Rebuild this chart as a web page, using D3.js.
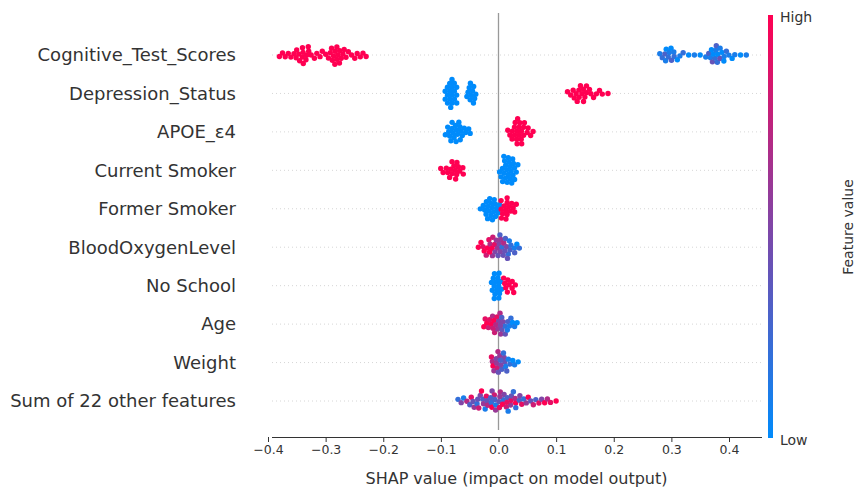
<!DOCTYPE html>
<html><head><meta charset="utf-8">
<script src="https://cdn.jsdelivr.net/npm/d3@7"></script>
<style>body{margin:0;background:#fff;font-family:"DejaVu Sans",sans-serif}</style>
</head><body><div id="chart"></div>
<script>
// feature names, top to bottom
const features = ["Cognitive_Test_Scores","Depression_Status","APOE_ε4","Current Smoker","Former Smoker",
  "BloodOxygenLevel","No School","Age","Weight","Sum of 22 other features"];
// SHAP value : feature value (0 low .. 1 high)
const cognitive = "-0.38:1 -0.375:1 -0.37:1 -0.365:1 -0.36:1 -0.355:1 -0.35:1 -0.35:1 -0.345:1 -0.345:1 -0.34:1 -0.34:1 -0.34:1 -0.338:1 -0.335:1 -0.335:1 -0.33:1 -0.33:1 -0.325:1 -0.32:1 -0.315:1 -0.31:1 -0.305:1 -0.30:1 -0.295:1 -0.29:1 -0.29:1 -0.287:1 -0.285:1 -0.285:1 -0.282:1 -0.28:1 -0.28:1 -0.28:1 -0.277:1 -0.275:1 -0.275:1 -0.27:1 -0.27:1 -0.265:1 -0.26:1 -0.255:1 -0.25:1 -0.245:1 -0.24:1 -0.235:1 -0.23:1 0.28:0.1 0.285:0.2 0.29:0.1 0.29:0.3 0.292:0 0.295:0.1 0.295:0.2 0.30:0.3 0.30:0 0.302:0.1 0.305:0.2 0.31:0 0.315:0.1 0.32:0.2 0.33:0 0.34:0.1 0.35:0 0.36:0.1 0.365:0.3 0.37:0 0.37:0.1 0.372:0.4 0.375:0.2 0.375:0 0.378:0.1 0.38:0.3 0.38:0 0.38:0.2 0.383:0.1 0.385:0 0.385:0.4 0.39:0.1 0.39:0 0.395:0.2 0.40:0.1 0.405:0 0.41:0.1 0.42:0 0.43:0.1";
const depression = "-0.09:0 -0.088:0 -0.086:0 -0.085:0 -0.084:0 -0.083:0 -0.082:0 -0.081:0 -0.08:0 -0.079:0 -0.078:0 -0.077:0 -0.076:0 -0.086:0 -0.082:0 -0.079:0 -0.083:0 -0.08:0 -0.078:0 -0.052:0 -0.05:0 -0.048:0 -0.046:0 -0.044:0 -0.042:0 -0.05:0 -0.047:0 -0.045:0 -0.049:0 -0.043:0 0.12:1 0.125:1 0.13:1 0.133:1 0.136:1 0.14:1 0.142:1 0.145:1 0.148:1 0.15:1 0.153:1 0.156:1 0.16:1 0.165:1 0.17:1 0.175:1 0.18:1 0.19:1 0.135:1 0.14:1 0.147:1 0.152:1";
const apoe = "-0.09:0 -0.087:0 -0.085:0 -0.083:0 -0.081:0 -0.08:0 -0.078:0 -0.077:0 -0.075:0 -0.074:0 -0.072:0 -0.07:0 -0.068:0 -0.066:0 -0.063:0 -0.06:0 -0.057:0 -0.054:0 -0.05:0 -0.079:0 -0.073:0 -0.069:0 0.018:1 0.022:1 0.025:1 0.027:1 0.029:1 0.03:1 0.031:1 0.033:1 0.034:1 0.035:1 0.036:1 0.038:1 0.04:1 0.042:1 0.044:1 0.047:1 0.05:1 0.055:1 0.06:1 0.032:1 0.036:1 0.029:1 0.039:1 0.041:1";
const currentSmoker = "-0.10:1 -0.095:1 -0.09:1 -0.087:1 -0.084:1 -0.082:1 -0.08:1 -0.078:1 -0.076:1 -0.074:1 -0.072:1 -0.07:1 -0.068:1 -0.065:1 -0.062:1 -0.079:1 -0.073:1 0.005:0 0.008:0 0.01:0 0.012:0 0.013:0 0.014:0 0.015:0 0.016:0 0.017:0 0.018:0 0.019:0 0.02:0 0.021:0 0.022:0 0.023:0 0.024:0 0.026:0 0.028:0 0.03:0 0.011:0 0.015:0 0.019:0 0.017:0 0.013:0 0.021:0";
const formerSmoker = "-0.03:0 -0.025:0 -0.022:0 -0.02:0 -0.018:0 -0.016:0 -0.015:0 -0.013:0 -0.012:0 -0.01:0 -0.009:0 -0.008:0 -0.006:0 -0.005:0 -0.003:0 -0.002:0 -0.014:0 -0.011:0 -0.007:0 -0.017:0 0.004:1 0.006:1 0.008:1 0.01:1 0.011:1 0.012:1 0.013:1 0.015:1 0.017:1 0.019:1 0.021:1 0.024:1 0.027:1 0.03:1 0.009:1 0.014:1";
const bloodOxygen = "-0.035:1 -0.03:1 -0.027:0.9 -0.024:1 -0.021:0.8 -0.018:1 -0.016:0.9 -0.014:0.7 -0.012:1 -0.01:0.6 -0.008:0.8 -0.006:0.5 -0.004:0.9 -0.002:0.6 0:0.4 0.002:0.5 0.003:0.3 0.005:0.6 0.006:0.2 0.008:0.4 0.009:0.7 0.011:0.3 0.012:0.5 0.014:0.2 0.016:0.4 0.018:0.1 0.02:0.3 0.022:0.2 0.025:0.1 0.028:0.3 0.032:0 0.036:0.2 -0.015:1 0.004:0.5 0.01:0.4 -0.005:0.6";
const noSchool = "-0.006:0 -0.005:0 -0.004:0 -0.003:0 -0.002:0 -0.001:0 -0.005:0 -0.003:0 -0.002:0 -0.004:0 -0.001:0 -0.003:0 -0.005:0 -0.002:0 -0.004:0 -0.003:0 0.008:1 0.011:1 0.013:1 0.015:1 0.017:1 0.019:1 0.021:1 0.023:1 0.026:1 0.029:1";
const age = "-0.025:1 -0.022:0.9 -0.019:1 -0.016:0.8 -0.014:1 -0.012:0.9 -0.01:0.7 -0.008:1 -0.006:0.8 -0.004:0.6 -0.002:0.9 0:0.5 0.002:0.7 0.003:0.4 0.005:0.6 0.006:0.3 0.008:0.5 0.01:0.2 0.012:0.4 0.014:0.1 0.016:0.3 0.018:0.1 0.021:0.2 0.024:0 0.028:0.1 0.032:0 -0.009:0.8 -0.003:0.7 0.004:0.5";
const weight = "-0.012:0.9 -0.01:0.7 -0.008:1 -0.006:0.6 -0.004:0.8 -0.002:0.5 0:0.7 0.001:0.4 0.003:0.6 0.004:0.3 0.006:0.5 0.008:0.2 0.01:0.4 0.012:0.1 0.014:0.3 0.017:0.1 0.02:0.2 0.024:0 0.028:0.1 0.034:0 -0.003:0.6 0.002:0.5 0.007:0.3";
const otherFeatures = "-0.07:0.2 -0.065:0.5 -0.06:0.1 -0.055:0.7 -0.05:0.3 -0.047:0.9 -0.044:0.4 -0.041:0.6 -0.038:0.2 -0.035:0.8 -0.032:0.5 -0.03:1 -0.027:0.3 -0.025:0.6 -0.022:0.1 -0.02:0.9 -0.018:0.4 -0.016:0.7 -0.014:0.2 -0.012:1 -0.01:0.5 -0.008:0.8 -0.006:0.3 -0.004:0.6 -0.002:0.1 0:0.9 0.002:0.4 0.004:0.7 0.006:0.2 0.008:1 0.01:0.5 0.012:0.3 0.014:0.8 0.016:0.1 0.018:0.6 0.02:0.9 0.022:0.4 0.025:0.2 0.028:0.7 0.031:1 0.034:0.3 0.037:0.5 0.04:0.9 0.044:0.2 0.048:0.6 0.052:1 0.056:0.4 0.06:0.8 0.065:0.3 0.07:0.9 0.075:0.5 0.08:1 0.085:0.7 0.09:0.9 0.1:1 -0.015:0.3 0.005:0.6 0.015:0.9 -0.035:0.4 0.03:0.2";
const rowData = [cognitive, depression, apoe, currentSmoker, formerSmoker, bloodOxygen, noSchool, age, weight, otherFeatures];
const xTicks = [-0.4,-0.3,-0.2,-0.1,0,0.1,0.2,0.3,0.4];

const W = 866, H = 497;
const svg = d3.select("#chart").append("svg").attr("width", W).attr("height", H);
const x = d3.scaleLinear().domain([-0.4, 0.4]).range([268, 729]);
const y = d3.scalePoint().domain(features).range([55, 401]);
const color = d3.scaleLinear().domain([0, 1]).range(["#008bfb", "#ff0052"]).interpolate(d3.interpolateRgb);

// dotted row guides
features.forEach(f => {
  svg.append("line").attr("x1", 272).attr("x2", 762).attr("y1", y(f)).attr("y2", y(f))
    .attr("stroke", "#ccc").attr("stroke-dasharray", "1,3").attr("stroke-width", 0.8);
});
svg.append("line").attr("x1", x(0)).attr("x2", x(0)).attr("y1", 13).attr("y2", 430)
  .attr("stroke", "#999").attr("stroke-width", 1.3);

// beeswarm per row
const r = 2.7;
rowData.forEach((str, i) => {
  const cy = y(features[i]);
  const nodes = str.split(" ").map(s => { const [v, f] = s.split(":").map(Number); return {v, f, x: x(v), y: cy}; });
  nodes.forEach((n, k) => n.y = cy + ((k % 5) - 2) * 0.5);
  const sim = d3.forceSimulation(nodes)
    .force("x", d3.forceX(d => x(d.v)).strength(1))
    .force("y", d3.forceY(cy).strength(0.1))
    .force("c", d3.forceCollide(r * 0.85)).stop();
  for (let t = 0; t < 200; t++) { sim.tick(); nodes.forEach(n => n.y = Math.max(cy - 14, Math.min(cy + 14, n.y))); }
  svg.append("g").selectAll("circle").data(nodes).join("circle")
    .attr("cx", d => d.x).attr("cy", d => d.y).attr("r", r).attr("fill", d => color(d.f));
});

// labels
svg.append("g").selectAll("text").data(features).join("text")
  .attr("x", 236).attr("y", d => y(d)).attr("dy", "0.35em").attr("text-anchor", "end")
  .attr("font-size", 18).attr("fill", "#333").text(d => d);

// x axis
svg.append("line").attr("x1", 272).attr("x2", 762).attr("y1", 437.5).attr("y2", 437.5).attr("stroke", "#333");
const ax = svg.append("g").attr("transform", "translate(0,437)")
  .call(d3.axisBottom(x).tickValues(xTicks).tickFormat(d3.format(".1f")).tickSize(5));
ax.select(".domain").remove();
ax.selectAll("text").attr("font-size", 12.5).attr("fill", "#333").attr("font-family", "DejaVu Sans")
  .text(d => d === 0 ? "0.0" : d3.format(".1f")(d).replace("-", "−"));
ax.selectAll(".tick line").attr("stroke", "#333");
svg.append("text").attr("x", x(0) + 18).attr("y", 484).attr("text-anchor", "middle")
  .attr("font-size", 16).attr("fill", "#333").text("SHAP value (impact on model output)");

// colour bar
const grad = svg.append("defs").append("linearGradient").attr("id", "cb")
  .attr("x1", 0).attr("x2", 0).attr("y1", 1).attr("y2", 0);
d3.range(0, 1.01, 0.1).forEach(t => grad.append("stop").attr("offset", t).attr("stop-color", color(t)));
svg.append("rect").attr("x", 768).attr("y", 15).attr("width", 5).attr("height", 423).attr("fill", "url(#cb)");
svg.append("text").attr("x", 780).attr("y", 22).attr("font-size", 14).attr("fill", "#333").text("High");
svg.append("text").attr("x", 780).attr("y", 445).attr("font-size", 14).attr("fill", "#333").text("Low");
svg.append("text").attr("transform", "translate(853,227) rotate(-90)").attr("text-anchor", "middle")
  .attr("font-size", 14).attr("fill", "#333").text("Feature value");
</script></body></html>
